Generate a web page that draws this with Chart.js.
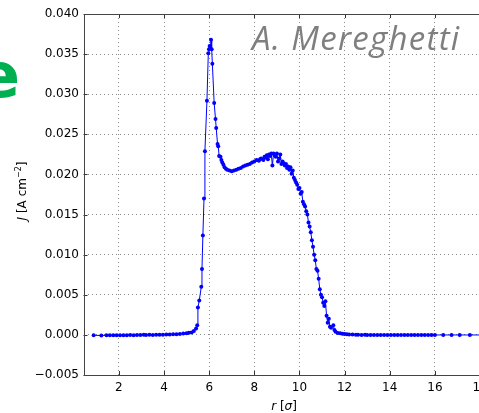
<!DOCTYPE html>
<html><head><meta charset="utf-8">
<script src="https://cdn.jsdelivr.net/npm/chart.js@4.4.1/dist/chart.umd.min.js"></script>
<style>
html,body{margin:0;padding:0;background:#fff;overflow:hidden;width:479px;height:413px;}
#wrap{position:relative;width:500px;height:413px;}
canvas{position:absolute;left:0;top:0;}
.txt{position:absolute;white-space:nowrap;line-height:1;}
#mark{left:252px;top:21px;font-family:"Open Sans",sans-serif;font-style:italic;font-size:33px;letter-spacing:1.3px;color:#7f7f7f;}
#green{left:-22px;top:45px;font-family:"DejaVu Sans",sans-serif;font-weight:bold;font-size:62px;color:#00b050;}
#ylab{left:21px;top:191px;transform:translate(-50%,-50%) rotate(-90deg);font-family:"DejaVu Sans",sans-serif;font-size:12px;color:#000;}
#xlab{left:284px;top:406px;transform:translate(-50%,-50%);font-family:"DejaVu Sans",sans-serif;font-size:12px;color:#000;}
sup{font-size:8px;vertical-align:5px;}
</style></head><body>
<div id="wrap">
<canvas id="c" width="500" height="413" style="width:500px;height:413px"></canvas>
<div class="txt" id="green">e</div>
<div class="txt" id="mark">A. Mereghetti</div>
<div class="txt" id="ylab"><i>J</i> [A cm<sup>−2</sup>]</div>
<div class="txt" id="xlab"><i>r</i> [<i>σ</i>]</div>
</div>
<script>
const xTicks = [2,4,6,8,10,12,14,16,18];
const yTicks = [-0.005,0,0.005,0.010,0.015,0.020,0.025,0.030,0.035,0.040];
const rValues = [
0.88,1.22,1.45,1.6,1.75,1.9,2.05,2.2,2.35,2.5,2.65,2.8,2.95,3.1,3.2,3.35,3.5,3.65,3.8,3.95,
4.1,4.25,4.4,4.55,4.7,4.85,5.0,5.1,5.22,5.32,5.42,5.47,5.50,5.56,5.65,5.68,5.72,5.77,5.81,5.90,
5.96,5.99,6.02,6.05,6.08,6.11,6.14,6.22,6.28,6.31,6.37,6.40,6.44,6.50,6.54,6.58,6.63,6.68,6.74,6.8,
6.9,7.0,7.1,7.2,7.3,7.4,7.5,7.6,7.7,7.8,7.9,8.0,8.1,8.2,8.25,8.3,8.4,8.45,8.5,8.55,
8.6,8.65,8.7,8.75,8.8,8.85,8.9,8.95,9.0,9.05,9.1,9.15,9.2,9.25,9.3,9.35,9.4,9.45,9.5,9.55,
9.6,9.65,9.7,9.75,9.8,9.85,9.9,9.95,10.0,10.05,10.1,10.15,10.2,10.25,10.3,10.35,10.4,10.45,10.5,10.55,
10.6,10.65,10.7,10.75,10.8,10.85,10.9,10.95,11.0,11.05,11.1,11.15,11.2,11.25,11.3,11.35,11.4,11.5,11.55,11.6,
11.7,11.8,11.9,12.0,12.1,12.2,12.35,12.5,12.6,12.75,12.9,13.0,13.15,13.3,13.45,13.6,13.75,13.9,14.05,14.2,
14.35,14.5,14.65,14.8,14.95,15.1,15.25,15.4,15.55,15.7,15.85,16.0,16.37,16.74,17.1,17.55,18.3
];
const jValues = [
-0.00005,-0.00008,-0.00004,-0.00006,-0.00005,-0.00004,-0.00005,-0.00003,-0.00004,-0.00002,-0.00003,-0.00001,-0.00002,0.00001,-0.00001,0.00001,0.0,0.00002,0.00001,0.00003,
0.00004,0.00005,0.00007,0.00009,0.00012,0.00016,0.0002,0.00026,0.0003,0.0005,0.0008,0.0012,0.0034,0.0043,0.0060,0.0082,0.0124,0.0170,0.0229,0.0292,
0.0351,0.0356,0.0360,0.0357,0.0368,0.0356,0.0338,0.0289,0.0269,0.0258,0.0238,0.0235,0.0223,0.0222,0.0218,0.0215,0.0212,0.0209,0.0207,0.0206,
0.0205,0.0204,0.0205,0.0206,0.0207,0.0208,0.0210,0.0211,0.0212,0.0213,0.0215,0.0216,0.0218,0.0217,0.0219,0.0220,0.0218,0.0222,0.0221,0.0224,
0.0219,0.0225,0.0223,0.0226,0.0211,0.0226,0.0224,0.0222,0.0226,0.0216,0.0220,0.0225,0.0213,0.0216,0.0214,0.0211,0.0213,0.0208,0.0210,0.0206,
0.0209,0.0201,0.0205,0.0196,0.0193,0.0190,0.0187,0.0182,0.0183,0.0176,0.0178,0.0166,0.0163,0.0160,0.0154,0.0150,0.0140,0.0135,0.0128,0.0118,
0.0110,0.0100,0.0093,0.0082,0.0080,0.0070,0.0057,0.0050,0.0047,0.0040,0.0036,0.0042,0.0024,0.0015,0.0020,0.0010,0.0009,0.0012,0.0006,0.0004,
0.00025,0.0002,0.00015,0.0001,0.00008,0.00006,0.00005,0.00003,0.00002,0.0,0.00001,-0.00001,0.0,-0.00001,-0.00002,-0.00001,-0.00002,-0.00001,-0.00002,-0.00001,
-0.00002,-0.00001,-0.00002,-0.00001,-0.00002,-0.00001,-0.00002,-0.00001,-0.00002,-0.00001,-0.00002,-0.00001,-0.00001,-0.00001,-0.00001,-0.00001,-0.00001
];

const frame = {
  id:'frame',
  afterDraw(chart){
    const {ctx, chartArea:a, scales:{x, y}} = chart;
    ctx.save();
    ctx.strokeStyle = '#333';
    ctx.lineWidth = 1;
    ctx.setLineDash([]);
    ctx.beginPath();
    xTicks.forEach(v=>{
      const p = Math.round(x.getPixelForValue(v))+0.5;
      ctx.moveTo(p, a.bottom); ctx.lineTo(p, a.bottom-4);
      ctx.moveTo(p, a.top); ctx.lineTo(p, a.top+4);
    });
    yTicks.forEach(v=>{
      const p = Math.round(y.getPixelForValue(v))+0.5;
      ctx.moveTo(a.left, p); ctx.lineTo(a.left+4, p);
      ctx.moveTo(a.right, p); ctx.lineTo(a.right-4, p);
    });
    ctx.stroke();
    ctx.strokeStyle = '#444';
    ctx.strokeRect(Math.round(a.left)+0.5, Math.round(a.top)+0.5, Math.round(a.right-a.left), Math.round(a.bottom-a.top));
    ctx.restore();
  }
};

const fmt = v => (v < 0 ? '\u2212' : '') + Math.abs(v).toFixed(3);

new Chart(document.getElementById('c'), {
  type:'line',
  data:{datasets:[{
    data: rValues.map((r,i)=>({x:r, y:jValues[i]})),
    borderColor:'#0000ff', backgroundColor:'#0000ff',
    pointBackgroundColor:'#0000ff', pointBorderColor:'#0000ff',
    borderWidth:1, pointRadius:2, pointBorderWidth:0, tension:0, fill:false
  }]},
  options:{
    responsive:false, animation:false,
    layout:{padding:{left:0,right:8.7,top:14,bottom:0}},
    plugins:{legend:{display:false},tooltip:{enabled:false}},
    scales:{
      x:{type:'linear', min:0.43, max:18.5,
        afterFit:s=>{s.height=38;},
        afterBuildTicks:s=>{s.ticks = xTicks.map(v=>({value:v}));},
        grid:{color:'#8c8c8c', lineWidth:1, drawTicks:false},
        border:{display:false, dash:[1,3]},
        ticks:{padding:6, color:'#000', font:{family:'DejaVu Sans', size:12}, callback:v=>String(v), maxRotation:0, autoSkip:false}
      },
      y:{type:'linear', min:-0.005, max:0.040,
        afterFit:s=>{s.width=83.5;},
        afterBuildTicks:s=>{s.ticks = yTicks.map(v=>({value:v}));},
        grid:{color:'#8c8c8c', lineWidth:1, drawTicks:false},
        border:{display:false, dash:[1,3]},
        ticks:{padding:4.5, color:'#000', font:{family:'DejaVu Sans', size:12}, callback:v=>fmt(v), autoSkip:false}
      }
    }
  },
  plugins:[frame]
});
</script>
</body></html>
